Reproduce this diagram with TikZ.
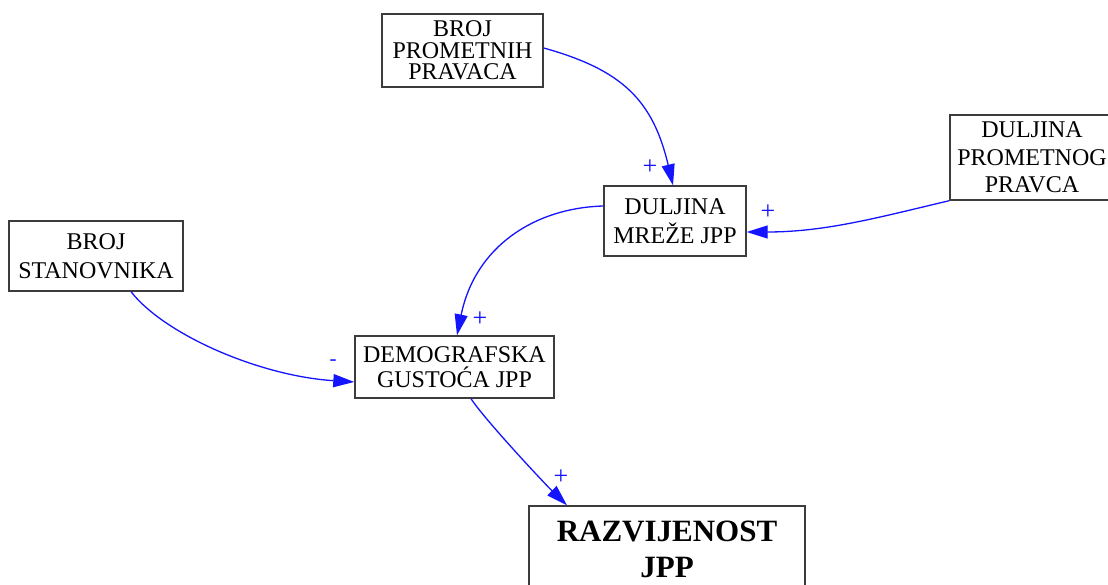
\documentclass[tikz,border=0pt]{standalone}
\usepackage{fontspec}
\setmainfont{Liberation Serif}
\usetikzlibrary{arrows.meta}
\definecolor{boxline}{RGB}{60,60,60}
\definecolor{linkblue}{RGB}{20,20,255}
\tikzset{
  varbox/.style={draw=boxline, line width=1.4pt, fill=white, inner sep=0pt, align=center, text=black},
  link/.style={draw=linkblue, line width=1.3pt, -{Triangle[length=21pt,width=13pt]}},
  sign/.style={text=linkblue, inner sep=0pt, font=\fontsize{26}{26}\selectfont},
  minussign/.style={text=linkblue, inner sep=0pt, font=\fontsize{21}{21}\selectfont}
}
\begin{document}
\begin{tikzpicture}[x=1pt,y=-1pt]
\useasboundingbox (0,0) rectangle (1108,585);
\clip (0,0) rectangle (1108,585);
\fill[white] (0,0) rectangle (1108,585);

\node[varbox, minimum width=161pt, minimum height=73pt, font={\fontsize{24}{21.7}\selectfont}] (bpp) at (462.5,50.5) {BROJ\\PROMETNIH\\PRAVACA};
\node[varbox, minimum width=142pt, minimum height=70pt, font={\fontsize{24}{29}\selectfont}] (dmj) at (675,221) {DULJINA\\MREŽE JPP};
\node[varbox, minimum width=164pt, minimum height=85pt, font={\fontsize{24}{27.5}\selectfont}] (dpp) at (1032,157.5) {DULJINA\\PROMETNOG\\PRAVCA};
\node[varbox, minimum width=174pt, minimum height=70pt, font={\fontsize{24}{29}\selectfont}] (bst) at (96,256) {BROJ\\STANOVNIKA};
\node[varbox, minimum width=199pt, minimum height=62pt, font={\fontsize{24}{25}\selectfont}] (dgj) at (454.5,367) {DEMOGRAFSKA\\GUSTOĆA JPP};
\node[varbox, minimum width=276pt, minimum height=86pt, font={\fontsize{31}{36}\selectfont\bfseries}] (rjpp) at (667,549) {RAZVIJENOST\\JPP};

% connectors
\draw[link] ([yshift=2.5pt]bpp.east) .. controls (623,70) and (653,101) .. ([xshift=-2pt]dmj.north);
\draw[link] (dpp.south west) .. controls (880,217) and (826,232) .. ([yshift=-11pt]dmj.east);
\draw[link] ([yshift=15pt]dmj.west) .. controls (534,208) and (475,247) .. ([xshift=2.5pt]dgj.north);
\draw[link] ([xshift=35pt]bst.south) .. controls (165,335) and (260,376) .. ([yshift=-15pt]dgj.west);
\draw[link] ([xshift=16.5pt]dgj.south) .. controls (485,420) and (545,484) .. ([xshift=-100pt]rjpp.north);

% polarity signs
\node[sign] (s1) at (650,167) {+};
\node[sign] (s2) at (768,212) {+};
\node[sign] (s3) at (480,319) {+};
\node[minussign] (s4) at (333,363) {-};
\node[sign] (s5) at (561,477) {+};
\end{tikzpicture}
\end{document}
